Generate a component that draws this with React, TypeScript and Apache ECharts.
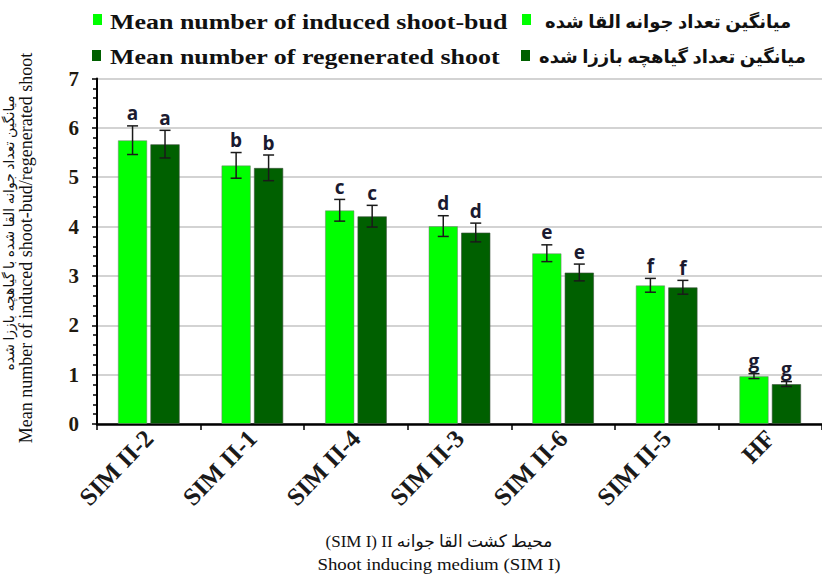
import React, { useEffect, useRef } from "react";
import * as echarts from "echarts";

const categories = ["SIM II-2", "SIM II-1", "SIM II-4", "SIM II-3", "SIM II-6", "SIM II-5", "HF"];
const inducedMeans = [5.75, 5.24, 4.33, 4.01, 3.46, 2.81, 0.97];
const inducedErrors = [0.29, 0.26, 0.22, 0.21, 0.17, 0.14, 0.05];
const inducedLetters = ["a", "b", "c", "d", "e", "f", "g"];
const regenMeans = [5.67, 5.19, 4.21, 3.88, 3.07, 2.77, 0.81];
const regenErrors = [0.28, 0.26, 0.22, 0.19, 0.17, 0.14, 0.05];
const regenLetters = ["a", "b", "c", "d", "e", "f", "g"];
const yMin = 0;
const yMax = 7;
const yInterval = 1;

const legendEn = ["Mean number of induced shoot-bud", "Mean number of regenerated shoot"];
const legendFa = ["میانگین تعداد جوانه القا شده", "میانگین تعداد گیاهچه باززا شده"];
const yTitleFa = "میانگین تعداد جوانه القا شده با گیاهچه باززا شده";
const yTitleEn = "Mean number of induced shoot-bud/regenerated shoot";
const xTitleFa = "(SIM I) II محیط کشت القا جوانه";
const xTitleEn = "Shoot inducing medium (SIM I)";

const LIGHT = "#00ff00";
const DARK = "#006000";
const BAR_FRAC = 0.285;
const GAP = 0.1;
const SERIF = "'Liberation Serif', 'Times New Roman', 'DejaVu Sans', serif";

function makeErrorRender(side: number, letters: string[]) {
  return (params: any, api: any) => {
    const idx = api.value(0);
    const v = api.value(1);
    const e = api.value(2);
    const band = api.size([1, 0])[0];
    const barW = band * BAR_FRAC;
    const off = side * (barW * (1 + GAP)) / 2;
    const c = api.coord([idx, v]);
    const x = c[0] + off;
    const top = api.coord([idx, v + e])[1];
    const bot = api.coord([idx, v - e])[1];
    const cap = 5.5;
    const stroke = { stroke: "#1a1a1a", lineWidth: 1.5 };
    return {
      type: "group",
      children: [
        { type: "line", shape: { x1: x, y1: top, x2: x, y2: bot }, style: stroke },
        { type: "line", shape: { x1: x - cap, y1: top, x2: x + cap, y2: top }, style: stroke },
        { type: "line", shape: { x1: x - cap, y1: bot, x2: x + cap, y2: bot }, style: stroke },
        {
          type: "text",
          x: x,
          y: top - 3,
          style: {
            text: letters[params.dataIndex],
            align: "center",
            verticalAlign: "bottom",
            fontFamily: "'Open Sans', 'Noto Sans', sans-serif",
            fontWeight: "bold",
            fontSize: 19,
            fill: "#1a1a30",
          },
        },
      ],
    };
  };
}

export default function App() {
  const ref = useRef<HTMLDivElement>(null);
  useEffect(() => {
    if (!ref.current) return;
    const chart = echarts.init(ref.current, undefined, { renderer: "svg" });
    const errData = (means: number[], errs: number[]) => means.map((m, i) => [i, m, errs[i]]);
    const option: any = {
      animation: false,
      backgroundColor: "#ffffff",
      grid: { left: 97, right: 0, top: 78.5, bottom: 152, outerBoundsMode: "none", containLabel: false },
      xAxis: {
        type: "category",
        data: categories,
        axisLine: { lineStyle: { color: "#000", width: 2.5 } },
        axisTick: { show: true, length: 6, lineStyle: { color: "#000", width: 1.5 } },
        axisLabel: {
          interval: 0,
          rotate: 46,
          margin: 10,
          fontFamily: SERIF,
          fontWeight: "bold",
          fontSize: 25,
          color: "#1a1a1a",
        },
        splitLine: { show: false },
      },
      yAxis: {
        type: "value",
        min: yMin,
        max: yMax,
        interval: yInterval,
        axisLine: { show: true, lineStyle: { color: "#000", width: 2 } },
        axisTick: { show: true, length: 5, lineStyle: { color: "#000", width: 1.5 } },
        minorTick: { show: true, splitNumber: 5, length: 4, lineStyle: { color: "#000", width: 1.5 } },
        axisLabel: {
          margin: 18,
          fontFamily: SERIF,
          fontWeight: "bold",
          fontSize: 21,
          color: "#1f1a10",
        },
        splitLine: { show: true, lineStyle: { color: "#c4c4c4", width: 1.5 } },
      },
      series: [
        {
          type: "bar",
          name: legendEn[0],
          data: inducedMeans,
          barWidth: BAR_FRAC * 100 + "%",
          barGap: GAP * 100 + "%",
          itemStyle: { color: LIGHT, borderColor: "rgba(120,120,120,0.5)", borderWidth: 1 },
        },
        {
          type: "bar",
          name: legendEn[1],
          data: regenMeans,
          barWidth: BAR_FRAC * 100 + "%",
          barGap: GAP * 100 + "%",
          itemStyle: { color: DARK, borderColor: "rgba(60,80,60,0.6)", borderWidth: 1 },
        },
        {
          type: "custom",
          renderItem: makeErrorRender(-1, inducedLetters),
          data: errData(inducedMeans, inducedErrors),
          encode: { x: 0, y: 1 },
          z: 5,
        },
        {
          type: "custom",
          renderItem: makeErrorRender(1, regenLetters),
          data: errData(regenMeans, regenErrors),
          encode: { x: 0, y: 1 },
          z: 5,
        },
      ],
      graphic: [
        { type: "rect", shape: { x: 93, y: 14, width: 9, height: 11 }, style: { fill: LIGHT } },
        {
          type: "text", x: 110, y: 22, scaleX: 1.18,
          style: { text: legendEn[0], align: "left", verticalAlign: "middle", fontFamily: SERIF, fontWeight: "bold", fontSize: 22, fill: "#111" },
        },
        { type: "rect", shape: { x: 522, y: 14, width: 9, height: 11 }, style: { fill: LIGHT } },
        {
          type: "text", x: 545, y: 22,
          style: { text: legendFa[0], align: "left", verticalAlign: "middle", fontFamily: SERIF, fontWeight: "bold", fontSize: 18, fill: "#111" },
        },
        { type: "rect", shape: { x: 92, y: 50, width: 9, height: 11 }, style: { fill: DARK } },
        {
          type: "text", x: 110, y: 57, scaleX: 1.18,
          style: { text: legendEn[1], align: "left", verticalAlign: "middle", fontFamily: SERIF, fontWeight: "bold", fontSize: 22, fill: "#111" },
        },
        { type: "rect", shape: { x: 521, y: 50, width: 9, height: 11 }, style: { fill: DARK } },
        {
          type: "text", x: 539, y: 57,
          style: { text: legendFa[1], align: "left", verticalAlign: "middle", fontFamily: SERIF, fontWeight: "bold", fontSize: 18, fill: "#111" },
        },
        {
          type: "text", x: 9, y: 233, rotation: Math.PI / 2,
          style: { text: yTitleFa, align: "center", verticalAlign: "middle", fontFamily: SERIF, fontSize: 14, fill: "#111" },
        },
        {
          type: "text", x: 26, y: 248, rotation: Math.PI / 2,
          style: { text: yTitleEn, align: "center", verticalAlign: "middle", fontFamily: SERIF, fontSize: 18, fill: "#111" },
        },
        {
          type: "text", x: 439, y: 541,
          style: { text: xTitleFa, align: "center", verticalAlign: "middle", fontFamily: SERIF, fontSize: 17, fill: "#111" },
        },
        {
          type: "text", x: 439, y: 565, scaleX: 1.18,
          style: { text: xTitleEn, align: "center", verticalAlign: "middle", fontFamily: SERIF, fontSize: 16, fill: "#111" },
        },
      ],
    };
    chart.setOption(option);
    return () => chart.dispose();
  }, []);
  return (
    <div
      ref={ref}
      style={{ position: "absolute", left: 0, top: 0, width: 822, height: 576, background: "#fff" }}
    />
  );
}
